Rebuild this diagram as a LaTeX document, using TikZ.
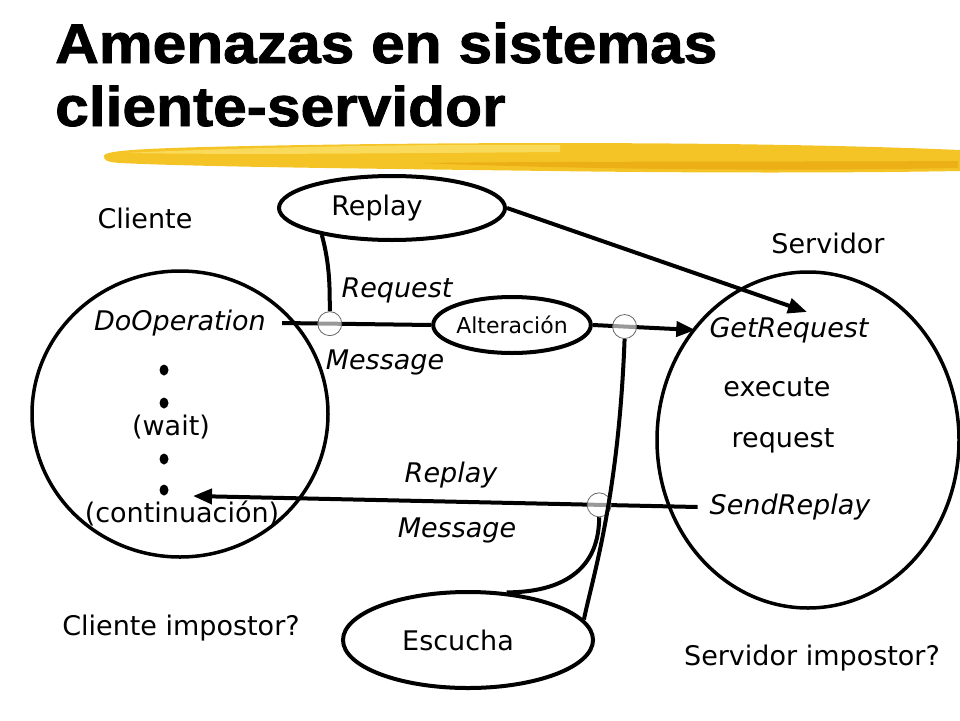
\documentclass[tikz,border=0pt]{standalone}
\usepackage{graphicx}
\usepackage{fontspec}
\setmainfont{DejaVu Sans}
\newfontfamily\titlefont{Liberation Sans}[BoldFeatures={FakeBold=1.5}]
\usetikzlibrary{arrows.meta,shapes.geometric}
\definecolor{brushgold}{RGB}{244,196,38}
\definecolor{brushlight}{RGB}{250,218,90}
\definecolor{brushdark}{RGB}{236,176,22}

\begin{document}
\begin{tikzpicture}[x=1pt,y=1pt,
  txt/.style={font=\fontsize{27}{32}\selectfont, inner sep=2pt},
  txti/.style={font=\fontsize{27}{32}\selectfont\itshape, inner sep=2pt},
  proc/.style={draw, line width=4pt, ellipse, inner sep=0pt},
  tap/.style={circle, draw=black!60, line width=0.8pt, fill=white, fill opacity=0.6, minimum size=24pt, inner sep=0pt},
  wire/.style={line width=4pt},
  msg/.style={wire, -{Triangle[length=19pt,width=15pt]}},
  ttl/.style={anchor=base west, inner sep=0pt, font=\titlefont\bfseries\fontsize{56}{60}\selectfont},
]
\useasboundingbox (0,0) rectangle (960,-720);

% brush stroke under the title
\fill[brushgold] (104,-156) .. controls (104,-150) and (150,-148) .. (250,-146)
  .. controls (450,-142) and (750,-141) .. (960,-150) -- (960,-171)
  .. controls (850,-173) and (700,-173) .. (550,-171)
  .. controls (400,-169) and (200,-167) .. (120,-163)
  .. controls (106,-162) and (104,-160) .. (104,-156) -- cycle;
\fill[brushlight] (125,-153) .. controls (250,-147) and (420,-144) .. (560,-145)
  -- (560,-152) .. controls (420,-153) and (250,-155) .. (125,-153) -- cycle;
\fill[brushdark] (420,-163) .. controls (600,-161) and (800,-162) .. (958,-161)
  -- (958,-168) .. controls (800,-171) and (600,-170) .. (420,-163) -- cycle;

\node[ttl] (title1) at (55,-63) {\scalebox{1.08}[1]{Amenazas en sistemas}};
\node[ttl] (title2) at (55,-126) {\scalebox{1.08}[1]{cliente-servidor}};

% processes
\node[proc, line width=3.5pt, minimum width=296pt, minimum height=286pt] (cli) at (180,-414) {};
\node[proc, line width=3.5pt, minimum width=302pt, minimum height=336pt] (srv) at (808,-440) {};
\node[proc, minimum width=226pt, minimum height=64pt,
  label={[txt,xshift=-15pt]center:Replay}] (rep) at (392,-208) {};
\node[proc, minimum width=144pt, minimum height=56pt,
  font=\fontsize{22}{26}\selectfont] (alt) at (512,-325) {Alteración};
\node[proc, minimum width=250pt, minimum height=96pt,
  label={[txt,xshift=-10pt]center:Escucha}] (esc) at (468,-640) {};

% labels
\node[txt] (cliente) at (145,-218) {Cliente};
\node[txt] (servidor) at (828,-243) {Servidor};
\node[txti] (doop) at (180,-323) {DoOperation};
\node[txti] (reqlbl) at (397,-290) {Request};
\node[txti] (msg1) at (385,-362) {Message};
\node[txt] (wait) at (171,-427) {(wait)};
\node[txt] (cont) at (182,-513) {(continuación)};
\node[txti] (getreq) at (789,-330) {GetRequest};
\node[txt] (exec) at (777,-387) {execute};
\node[txt] (reqw) at (783,-441) {request};
\node[txti] (replbl) at (451,-475) {Replay};
\node[txti] (sendrep) at (790,-507) {SendReplay};
\node[txti] (msg2) at (457,-530) {Message};
\node[txt] (cliimp) at (181,-628) {Cliente impostor?};
\node[txt] (srvimp) at (812,-658) {Servidor impostor?};

\foreach \y in {370,403,459,490}
  \fill (164,-\y) ellipse (4.5 and 5.5);
\coordinate (back) at (193,-496);

% messages
\draw[wire] ([xshift=14pt]doop.east) -- node[tap, pos=0.32] (c1) {} (alt.west);
\draw[msg] (alt.east) -- node[tap, pos=0.31] (c2) {} ([xshift=-12pt]getreq.west);
\draw[msg] (rep.east) -- ([xshift=18pt,yshift=3pt]getreq.north);
\draw[msg] ([xshift=-10pt]sendrep.west) -- node[tap, pos=0.195] (c3) {} (back);

% taps
\draw[wire] (rep.201) .. controls +(8,-30) and +(0,25) .. (c1.north);
\draw[wire] (c2.south) .. controls +(-6,-160) and +(8,40) .. (esc.10);
\draw[wire] (c3.south) .. controls +(0,-60) and +(45,0) .. (esc.51);

\end{tikzpicture}
\end{document}
